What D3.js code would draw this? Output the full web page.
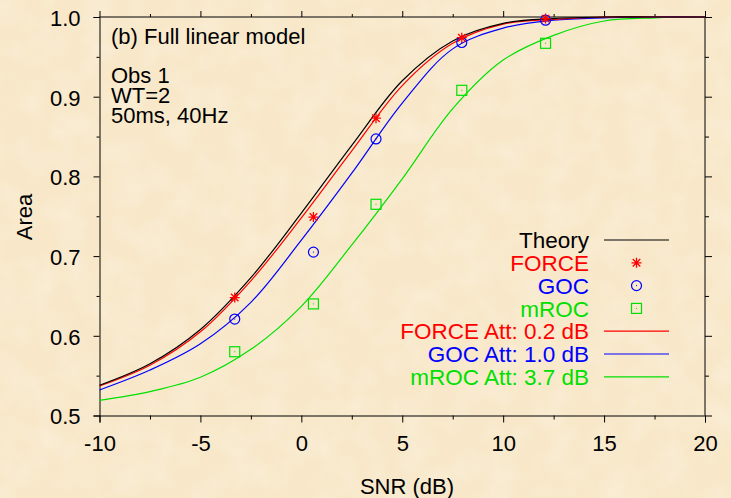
<!DOCTYPE html>
<html lang="en">
<head>
  <meta charset="UTF-8">
  <title>Area vs SNR - Full linear model</title>
  <script src="https://d3js.org/d3.v7.min.js"></script>
  <style>
    html, body {
      margin: 0;
      padding: 0;
      background: #f8ebd0;
    }
    svg text {
      font-family: "Liberation Sans", Arial, sans-serif;
    }
  </style>
</head>
<body>
  <div id="chart"></div>

  <script>
    // fitted curves, read along a 2.5 dB grid
    var snrGrid = [-10, -7.5, -5, -2.5, 0, 2.5, 5, 7.5, 10, 12.5, 15, 17.5, 20];
    var theoryArea = [0.538, 0.565, 0.608, 0.673, 0.754, 0.839, 0.920, 0.970, 0.992, 0.998, 1.0, 1.0, 1.0];
    var forceArea  = [0.537, 0.563, 0.605, 0.669, 0.748, 0.832, 0.914, 0.967, 0.991, 0.997, 1.0, 1.0, 1.0];
    var gocArea    = [0.532, 0.557, 0.590, 0.642, 0.720, 0.804, 0.892, 0.960, 0.986, 0.996, 0.999, 1.0, 1.0];
    var mrocArea   = [0.519, 0.530, 0.548, 0.583, 0.637, 0.714, 0.797, 0.885, 0.946, 0.977, 0.995, 0.999, 1.0];

    // measured points
    var pointSnr  = [-3.3, 0.6, 3.7, 7.95, 12.1];
    var forcePts  = [0.648, 0.749, 0.873, 0.974, 0.998];
    var gocPts    = [0.621, 0.705, 0.847, 0.968, 0.996];
    var mrocPts   = [0.580, 0.640, 0.765, 0.908, 0.967];

    var xTicks = [-10, -5, 0, 5, 10, 15, 20];
    var xMinor = [-7.5, -2.5, 2.5, 7.5, 12.5, 17.5];
    var yTicks = [0.5, 0.6, 0.7, 0.8, 0.9, 1.0];
    var yMinor = [0.55, 0.65, 0.75, 0.85, 0.95];

    var legendLabels = ["Theory", "FORCE", "GOC", "mROC", "FORCE Att: 0.2 dB", "GOC Att: 1.0 dB", "mROC Att: 3.7 dB"];
    var annotation = ["Obs 1", "WT=2", "50ms, 40Hz"];

    var W = 731, H = 498;
    var RED = "#ff0000", BLUE = "#0000ff", GREEN = "#00e000";
    var FS = 22;

    var svg = d3.select("#chart").append("svg")
      .attr("width", W)
      .attr("height", H);

    // parchment-like background
    var defs = svg.append("defs");
    var filt = defs.append("filter").attr("id", "paper")
      .attr("x", 0).attr("y", 0).attr("width", "100%").attr("height", "100%");
    filt.append("feTurbulence").attr("type", "fractalNoise")
      .attr("baseFrequency", 0.035).attr("numOctaves", 3).attr("seed", 4).attr("result", "n");
    filt.append("feColorMatrix").attr("in", "n").attr("type", "matrix")
      .attr("values", "0 0 0 0 1  0 0 0 0 1  0 0 0 0 1  1.2 0 0 0 -0.45")
      .attr("result", "m");
    filt.append("feComposite").attr("in", "m").attr("in2", "SourceGraphic").attr("operator", "in");

    svg.append("rect").attr("width", W).attr("height", H).attr("fill", "#f8e8c9");
    svg.append("rect").attr("width", W).attr("height", H).attr("fill", "#f8e8c9")
      .attr("filter", "url(#paper)").attr("opacity", 0.35);

    var x = d3.scaleLinear().domain([-10, 20]).range([99.5, 705]);
    var y = d3.scaleLinear().domain([0.5, 1.0]).range([415.5, 17]);

    // frame: top/right grey, left/bottom black
    svg.append("line").attr("x1", x(-10)).attr("x2", x(20)).attr("y1", y(1)).attr("y2", y(1))
      .attr("stroke", "#7d7468").attr("stroke-width", 2);
    svg.append("line").attr("x1", x(20)).attr("x2", x(20)).attr("y1", y(1) - 1).attr("y2", y(0.5))
      .attr("stroke", "#7d7468").attr("stroke-width", 2);

    var fmtY = d3.format(".1f");
    var fmtX = function(d) { return String(d); };   // plain hyphen minus

    svg.append("g")
      .attr("transform", "translate(" + x(-10) + ",0)")
      .call(d3.axisLeft(y).tickValues(yTicks).tickSize(6).tickPadding(13).tickFormat(fmtY))
      .call(function(g) {
        g.select(".domain").attr("stroke", "#000");
        g.selectAll("text").attr("font-size", FS).attr("fill", "#000")
          .attr("font-family", "Liberation Sans, Arial, sans-serif").attr("dy", "0.38em");
      });
    svg.append("g")
      .attr("transform", "translate(" + x(-10) + ",0)")
      .call(d3.axisLeft(y).tickValues(yMinor).tickSize(3).tickFormat(""))
      .call(function(g) { g.select(".domain").remove(); });

    svg.append("g")
      .attr("transform", "translate(0," + y(0.5) + ")")
      .call(d3.axisBottom(x).tickValues(xTicks).tickSize(7).tickPadding(13).tickFormat(fmtX))
      .call(function(g) {
        g.select(".domain").attr("stroke", "#000");
        g.selectAll("text").attr("font-size", FS).attr("fill", "#000")
          .attr("font-family", "Liberation Sans, Arial, sans-serif");
      });
    svg.append("g")
      .attr("transform", "translate(0," + y(0.5) + ")")
      .call(d3.axisBottom(x).tickValues(xMinor).tickSize(4).tickFormat(""))
      .call(function(g) { g.select(".domain").remove(); });

    // mirrored ticks on top and right
    svg.append("g")
      .attr("transform", "translate(0," + y(1) + ")")
      .call(d3.axisTop(x).tickValues(xTicks).tickSize(6).tickFormat(""))
      .call(function(g) { g.select(".domain").remove(); });
    svg.append("g")
      .attr("transform", "translate(0," + y(1) + ")")
      .call(d3.axisTop(x).tickValues(xMinor).tickSize(3).tickFormat(""))
      .call(function(g) { g.select(".domain").remove(); });
    svg.append("g")
      .attr("transform", "translate(" + x(20) + ",0)")
      .call(d3.axisRight(y).tickValues(yTicks).tickSize(7).tickFormat(""))
      .call(function(g) { g.select(".domain").remove(); });
    svg.append("g")
      .attr("transform", "translate(" + x(20) + ",0)")
      .call(d3.axisRight(y).tickValues(yMinor).tickSize(4).tickFormat(""))
      .call(function(g) { g.select(".domain").remove(); });

    // axis titles
    svg.append("text").attr("x", 407).attr("y", 494).attr("text-anchor", "middle")
      .attr("font-size", FS).text("SNR (dB)");
    svg.append("text").attr("transform", "translate(32,217) rotate(-90)").attr("text-anchor", "middle")
      .attr("font-size", FS).text("Area");

    // annotations (tight line spacing as in the original)
    svg.append("text").attr("x", 111).attr("y", 44).attr("font-size", FS).text("(b) Full linear model");
    var ann = svg.append("text").attr("x", 111).attr("y", 83).attr("font-size", FS);
    ann.selectAll("tspan").data(annotation).enter().append("tspan")
      .attr("x", 111)
      .attr("dy", function(d, i) { return i === 0 ? 0 : 20; })
      .text(function(d) { return d; });

    // curves
    var line = d3.line()
      .x(function(d) { return x(d[0]); })
      .y(function(d) { return y(d[1]); })
      .curve(d3.curveCatmullRom.alpha(0.5));

    function zip(a, b) { return a.map(function(v, i) { return [v, b[i]]; }); }

    var curves = [
      { vals: mrocArea, color: GREEN },
      { vals: gocArea, color: BLUE },
      { vals: forceArea, color: RED },
      { vals: theoryArea, color: "#000" }
    ];
    curves.forEach(function(c) {
      svg.append("path")
        .attr("d", line(zip(snrGrid, c.vals)))
        .attr("fill", "none")
        .attr("stroke", c.color)
        .attr("stroke-width", 1.2);
    });

    // markers
    function asterisk(g, cx, cy, r) {
      var p = "M" + (cx - r) + "," + cy + "H" + (cx + r) +
              "M" + cx + "," + (cy - r) + "V" + (cy + r) +
              "M" + (cx - r * 0.75) + "," + (cy - r * 0.75) + "L" + (cx + r * 0.75) + "," + (cy + r * 0.75) +
              "M" + (cx - r * 0.75) + "," + (cy + r * 0.75) + "L" + (cx + r * 0.75) + "," + (cy - r * 0.75);
      g.append("path").attr("d", p).attr("stroke", RED).attr("stroke-width", 1.3).attr("fill", "none");
    }
    function circ(g, cx, cy) {
      g.append("circle").attr("cx", cx).attr("cy", cy).attr("r", 5)
        .attr("fill", "none").attr("stroke", BLUE).attr("stroke-width", 1.2);
      g.append("rect").attr("x", cx - 0.5).attr("y", cy - 0.5).attr("width", 1).attr("height", 1).attr("fill", BLUE);
    }
    function sq(g, cx, cy) {
      g.append("rect").attr("x", cx - 5).attr("y", cy - 5).attr("width", 10).attr("height", 10)
        .attr("fill", "none").attr("stroke", GREEN).attr("stroke-width", 1.2);
      g.append("rect").attr("x", cx - 0.5).attr("y", cy - 0.5).attr("width", 1).attr("height", 1).attr("fill", GREEN);
    }

    var mk = svg.append("g");
    pointSnr.forEach(function(s, i) {
      sq(mk, x(s), y(mrocPts[i]));
      circ(mk, x(s), y(gocPts[i]));
      asterisk(mk, x(s), y(forcePts[i]), 5);
    });

    // legend
    var legendColors = ["#000", RED, BLUE, GREEN, RED, BLUE, GREEN];
    var legendKind = ["line", "star", "circle", "square", "line", "line", "line"];
    var lg = svg.append("g");
    legendLabels.forEach(function(lab, i) {
      var cy = 240 + i * 22.8;
      lg.append("text").attr("x", 589).attr("y", cy).attr("dy", "0.36em")
        .attr("text-anchor", "end").attr("font-size", 22.5)
        .attr("fill", legendColors[i]).text(lab);
      if (legendKind[i] === "line") {
        lg.append("line").attr("x1", 604).attr("x2", 669).attr("y1", cy).attr("y2", cy)
          .attr("stroke", legendColors[i]).attr("stroke-width", 1.2);
      } else if (legendKind[i] === "star") {
        asterisk(lg, 636.5, cy, 5);
      } else if (legendKind[i] === "circle") {
        circ(lg, 636.5, cy);
      } else {
        sq(lg, 636.5, cy);
      }
    });
  </script>
</body>
</html>
